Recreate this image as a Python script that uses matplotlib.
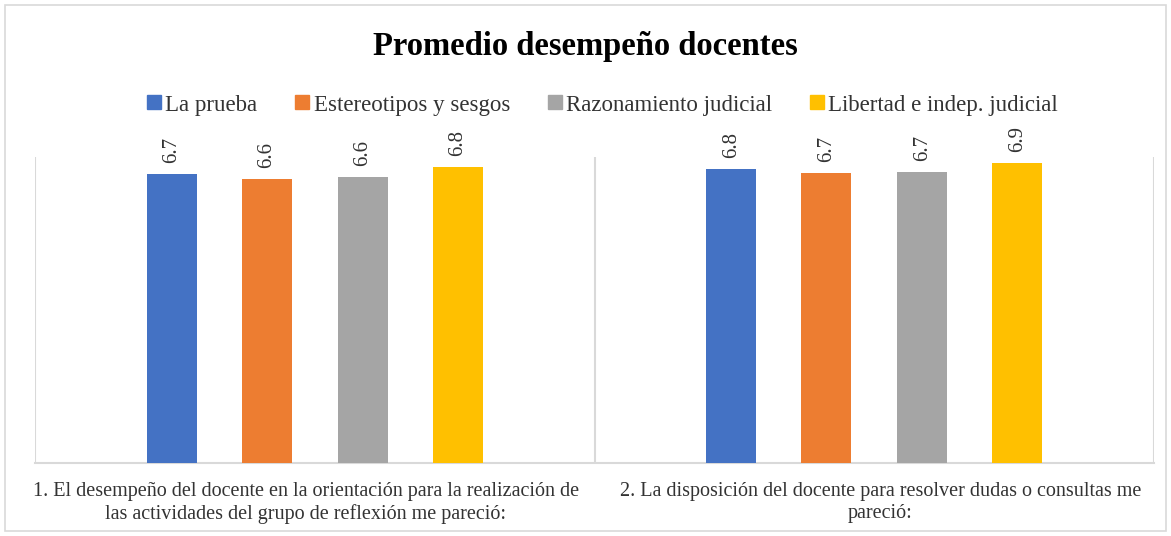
import matplotlib
matplotlib.use("Agg")
import matplotlib.pyplot as plt
import matplotlib.transforms as mtransforms
from matplotlib.patches import Rectangle
from matplotlib.lines import Line2D
import numpy as np

categories = [
    "1. El desempeño del docente en la orientación para la realización de\nlas actividades del grupo de reflexión me pareció:",
    "2. La disposición del docente para resolver dudas o consultas me\npareció:",
]
series_names = ["La prueba", "Estereotipos y sesgos", "Razonamiento judicial", "Libertad e indep. judicial"]
la_prueba = [6.67, 6.79]
estereotipos = [6.56, 6.70]
razonamiento = [6.60, 6.72]
libertad = [6.83, 6.93]
colors = ["#4472C4", "#ED7D31", "#A5A5A5", "#FFC000"]

series_values = [la_prueba, estereotipos, razonamiento, libertad]

plt.rcParams['font.family'] = ['Liberation Serif', 'DejaVu Serif']

fig = plt.figure(figsize=(11.71, 5.36), dpi=100)
ax = fig.add_axes([35/1171, (536-463)/536, (1154-35)/1171, (463-157)/536])

x = np.arange(len(categories))
offsets = [-0.2554, -0.0857, 0.0857, 0.2554]
width = 0.0893
for vals, off, col, name in zip(series_values, offsets, colors, series_names):
    bars = ax.bar(x + off, vals, width, color=col, label=name, zorder=3)
    for b, v in zip(bars, vals):
        ax.annotate(f"{v:.1f}", (b.get_x() + b.get_width()/2, b.get_height()),
                    xytext=(0, 8), textcoords="offset points", rotation=90,
                    ha="center", va="bottom", fontsize=15, color="#333333")

ax.set_xlim(-0.5, 1.5)
ax.set_ylim(0, 7.07)
for xb in [-0.5, 0.5, 1.5]:
    ax.axvline(xb, color="#D9D9D9", lw=1.5, zorder=1)
for s in ["top", "right", "left"]:
    ax.spines[s].set_visible(False)
ax.spines["bottom"].set_color("#D9D9D9")
ax.spines["bottom"].set_linewidth(1.5)
ax.set_yticks([])
ax.set_xticks(x)
ax.set_xticklabels(categories, fontsize=14.5, color="#333333", linespacing=1.15)
ax.tick_params(axis="x", length=0, pad=14)
for lab, dx in zip(ax.get_xticklabels(), [-9, 6]):
    lab.set_transform(lab.get_transform() + mtransforms.ScaledTranslation(dx/100, 0, fig.dpi_scale_trans))

fig.text(0.5, 1 - 47/536, "Promedio desempeño docentes", ha="center", va="center",
         fontsize=23.5, fontweight="bold", color="black")

handles = [Line2D([], [], marker="s", linestyle="none", markersize=10,
                  markerfacecolor=c, markeredgecolor=c) for c in colors]
fig.legend(handles, series_names, loc="center", bbox_to_anchor=(602/1171, 1 - 105/536),
           ncol=4, frameon=False, fontsize=16.5, handlelength=0.7, handletextpad=0.15,
           columnspacing=1.6, labelcolor="#333333")

fig.patches.append(Rectangle((5/1171, 5/536), 1 - 10/1171, 1 - 10/536, transform=fig.transFigure,
                             fill=False, edgecolor="#D9D9D9", lw=1.2))

fig.savefig("out.png", dpi=100)
